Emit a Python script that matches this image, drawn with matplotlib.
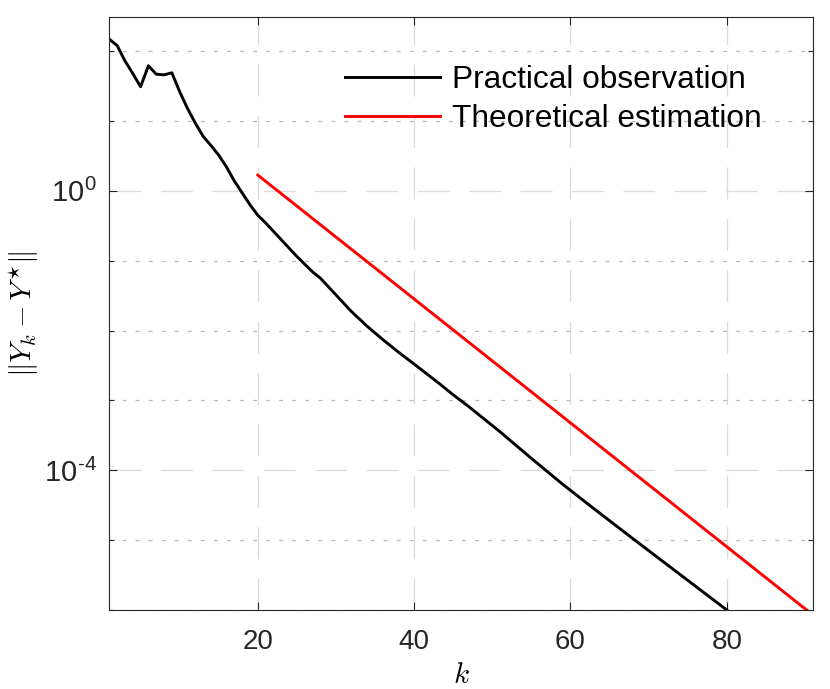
import numpy as np
import matplotlib
matplotlib.use('Agg')
import matplotlib.pyplot as plt
from matplotlib.ticker import FixedLocator, NullFormatter, FuncFormatter

# dados (log10 do erro)
k_obs = [1, 2, 3, 4, 5, 6, 7, 8, 9, 10, 11, 12, 13, 14, 15, 16, 17, 18, 19, 20,
         21, 22, 23, 24, 25, 26, 27, 28, 30, 32, 34, 36, 38, 40, 43, 45, 47, 51,
         55, 59, 63, 68, 74, 80]
log_obs = [2.17, 2.08, 1.86, 1.68, 1.49, 1.79, 1.67, 1.66, 1.69, 1.42, 1.18, 0.97,
           0.78, 0.65, 0.51, 0.34, 0.14, -0.03, -0.20, -0.35, -0.46, -0.58, -0.70,
           -0.82, -0.94, -1.05, -1.16, -1.25, -1.49, -1.73, -1.94, -2.13, -2.31,
           -2.48, -2.74, -2.92, -3.09, -3.45, -3.83, -4.20, -4.55, -4.98, -5.49,
           -6.00]
k_theo = [20, 91]
log_theo = [0.225, -6.07]

plt.rcParams['font.family'] = ['Liberation Sans', 'DejaVu Sans']
plt.rcParams['mathtext.fontset'] = 'cm'
plt.rcParams['lines.scale_dashes'] = False

fig = plt.figure(figsize=(8.3, 6.89), dpi=100)
ax = fig.add_axes([0.1317, 0.1147, 0.8475, 0.8603])

ax.semilogy(k_obs, 10.0 ** np.array(log_obs), color='black', lw=2.1,
            label='Practical observation')
ax.semilogy(k_theo, 10.0 ** np.array(log_theo), color='red', lw=2.1,
            label='Theoretical estimation')

ax.set_xlim(1, 91)
ax.set_ylim(1e-6, 10 ** 2.485)
ax.set_xticks([20, 40, 60, 80])
ax.set_yticks([1e-4, 1e0])
ax.yaxis.set_major_formatter(FuncFormatter(
    lambda v, p: '10$^{\\mathregular{%s}}$' % str(int(round(np.log10(v)))).replace('-', '\u2010')))
ax.yaxis.set_minor_locator(FixedLocator([1e-6, 1e-5, 1e-3, 1e-2, 1e-1, 1e1, 1e2]))
ax.yaxis.set_minor_formatter(NullFormatter())
ax.xaxis.set_minor_locator(FixedLocator([]))

dark = (0.15, 0.15, 0.15)
for s in ax.spines.values():
    s.set_color(dark)
    s.set_linewidth(0.8)
ax.tick_params(which='both', direction='in', top=True, right=True, colors=dark,
               labelsize=20, width=0.8)
ax.tick_params(which='major', length=5.5)
ax.tick_params(axis='x', pad=14)
ax.tick_params(axis='y', which='major', labelsize=21, pad=9)
ax.tick_params(which='minor', length=3.5)

ax.grid(True, which='major', color=(0.86, 0.86, 0.86), lw=0.9, ls=(0, (23, 14)))
ax.yaxis.grid(True, which='minor', color=(0.72, 0.72, 0.72), lw=0.9, ls=(0, (2.8, 6.6)))
ax.set_axisbelow(True)

ax.set_xlabel('$k$', fontsize=21, labelpad=4)
ax.set_ylabel(r'$\|Y_k - Y^{\star}\|$', fontsize=21, labelpad=2)

ax.legend(loc='upper right', bbox_to_anchor=(0.968, 0.967), frameon=False,
          fontsize=22.8, handlelength=3.0, handletextpad=0.38, labelspacing=0.28)

plt.savefig('out.png', dpi=100)
plt.close()
